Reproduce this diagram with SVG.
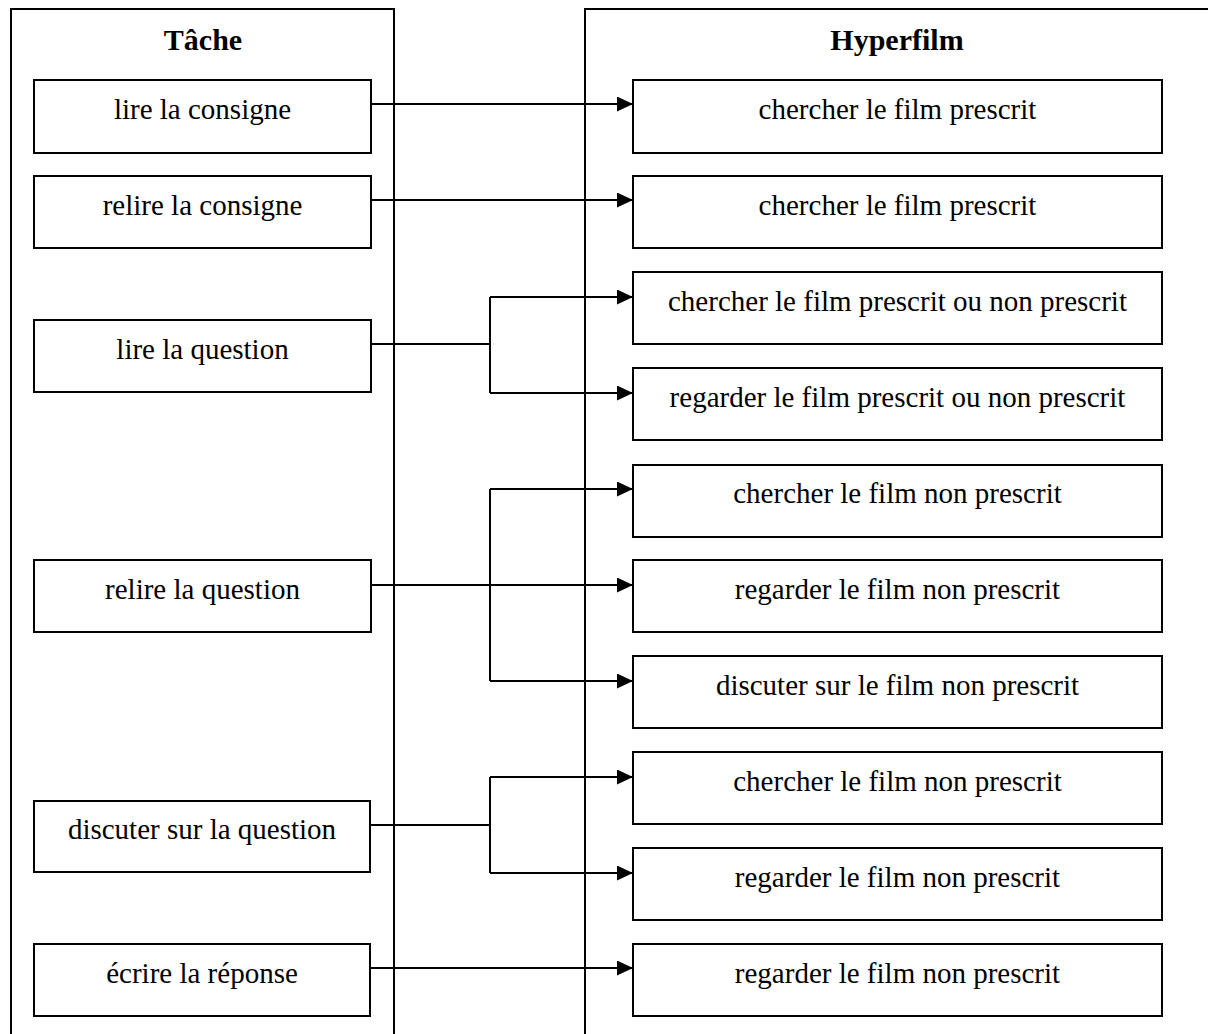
<svg xmlns="http://www.w3.org/2000/svg" width="1208" height="1034" viewBox="0 0 1208 1034">
  <style>
    .frame { fill: none; stroke: #000; stroke-width: 2; }
    .box { fill: #fff; stroke: #000; stroke-width: 2; }
    .title { font-family: "Liberation Serif", "Times New Roman", serif; font-size: 30px; font-weight: bold; text-anchor: middle; fill: #000; }
    .label { font-family: "Liberation Serif", "Times New Roman", serif; font-size: 29px; text-anchor: middle; fill: #000; }
    .wire { fill: none; stroke: #000; stroke-width: 2; }
    .arrow { fill: none; stroke: #000; stroke-width: 2; marker-end: url(#head); }
  </style>
  <defs>
    <marker id="head" markerUnits="userSpaceOnUse" markerWidth="17" markerHeight="16" refX="16" refY="7.5" orient="auto">
      <path d="M0,0 L16,7.5 L0,15 Z" fill="#000"/>
    </marker>
  </defs>

  <rect width="1208" height="1034" fill="#fff"/>

  <!-- column frames -->
  <g id="col-tache">
    <path class="frame" d="M11,1040 V9 H394 V1040"/>
    <text class="title" x="203" y="50">Tâche</text>
  </g>
  <g id="col-hyperfilm">
    <path class="frame" d="M585,1040 V9 H1215"/>
    <text class="title" x="897" y="50">Hyperfilm</text>
  </g>

  <!-- connectors -->
  <g id="connectors">
    <path class="arrow" d="M371,104 H633"/>
    <path class="arrow" d="M371,200 H633"/>

    <path class="wire" d="M371,344 H490 M490,297 V393"/>
    <path class="arrow" d="M490,297 H633"/>
    <path class="arrow" d="M490,393 H633"/>

    <path class="wire" d="M490,489 V681"/>
    <path class="arrow" d="M371,585 H633"/>
    <path class="arrow" d="M490,489 H633"/>
    <path class="arrow" d="M490,681 H633"/>

    <path class="wire" d="M371,825 H490 M490,777 V873"/>
    <path class="arrow" d="M490,777 H633"/>
    <path class="arrow" d="M490,873 H633"/>

    <path class="arrow" d="M371,968 H633"/>
  </g>

  <!-- task nodes -->
  <g id="t1"><rect class="box" x="34" y="80" width="337" height="73"/><text class="label" x="202.5" y="119">lire la consigne</text></g>
  <g id="t2"><rect class="box" x="34" y="176" width="337" height="72"/><text class="label" x="202.5" y="215">relire la consigne</text></g>
  <g id="t3"><rect class="box" x="34" y="320" width="337" height="72"/><text class="label" x="202.5" y="359">lire la question</text></g>
  <g id="t4"><rect class="box" x="34" y="560" width="337" height="72"/><text class="label" x="202.5" y="599">relire la question</text></g>
  <g id="t5"><rect class="box" x="34" y="801" width="336" height="71"/><text class="label" x="202" y="839">discuter sur la question</text></g>
  <g id="t6"><rect class="box" x="34" y="944" width="336" height="72"/><text class="label" x="202" y="983">écrire la réponse</text></g>

  <!-- hyperfilm nodes -->
  <g id="h1"><rect class="box" x="633" y="80" width="529" height="73"/><text class="label" x="897.5" y="119">chercher le film prescrit</text></g>
  <g id="h2"><rect class="box" x="633" y="176" width="529" height="72"/><text class="label" x="897.5" y="215">chercher le film prescrit</text></g>
  <g id="h3"><rect class="box" x="633" y="272" width="529" height="72"/><text class="label" x="897.5" y="311">chercher le film prescrit ou non prescrit</text></g>
  <g id="h4"><rect class="box" x="633" y="368" width="529" height="72"/><text class="label" x="897.5" y="407">regarder le film prescrit ou non prescrit</text></g>
  <g id="h5"><rect class="box" x="633" y="465" width="529" height="72"/><text class="label" x="897.5" y="503">chercher le film non prescrit</text></g>
  <g id="h6"><rect class="box" x="633" y="560" width="529" height="72"/><text class="label" x="897.5" y="599">regarder le film non prescrit</text></g>
  <g id="h7"><rect class="box" x="633" y="656" width="529" height="72"/><text class="label" x="897.5" y="695">discuter sur le film non prescrit</text></g>
  <g id="h8"><rect class="box" x="633" y="752" width="529" height="72"/><text class="label" x="897.5" y="791">chercher le film non prescrit</text></g>
  <g id="h9"><rect class="box" x="633" y="848" width="529" height="72"/><text class="label" x="897.5" y="887">regarder le film non prescrit</text></g>
  <g id="h10"><rect class="box" x="633" y="944" width="529" height="72"/><text class="label" x="897.5" y="983">regarder le film non prescrit</text></g>
</svg>
